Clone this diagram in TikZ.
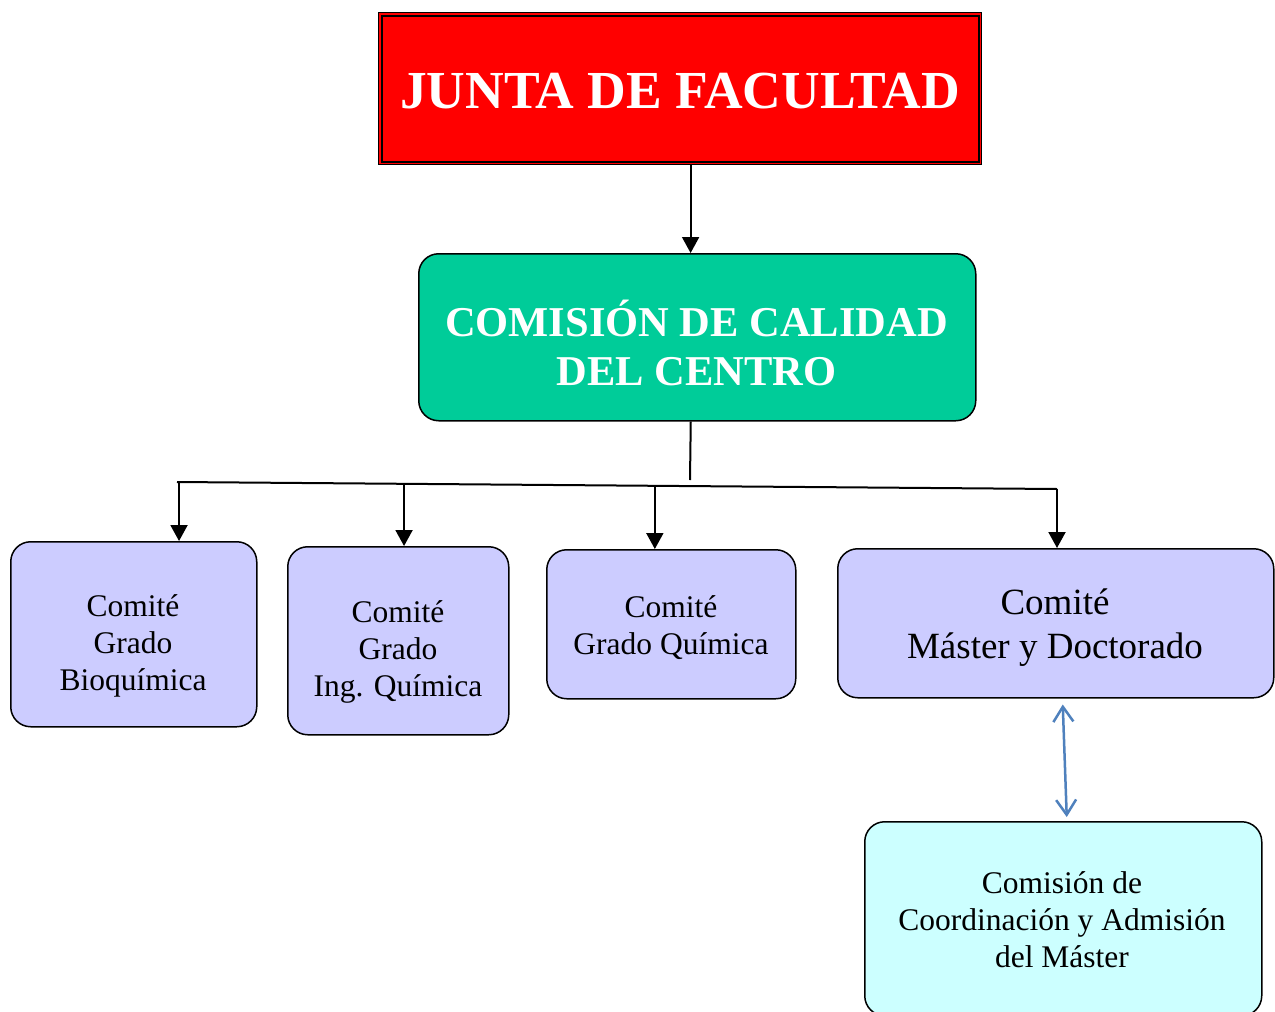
\documentclass[tikz,border=0pt]{standalone}
\usepackage{fontspec}
\setmainfont{Liberation Serif}
\usetikzlibrary{arrows.meta,calc}
\definecolor{juntared}{HTML}{FF0000}
\definecolor{calgreen}{HTML}{00CC99}
\definecolor{lav}{HTML}{CCCCFF}
\definecolor{cyanlight}{HTML}{CCFFFF}
\definecolor{blueln}{HTML}{4F81BD}
\begin{document}
\begin{tikzpicture}[x=1pt,y=-1pt,
  rbox/.style={draw=black, line width=1.5pt, rounded corners=20pt, inner sep=0pt, anchor=north west},
  txt/.style={align=center, inner sep=0pt, font=\fontsize{31.5}{37}\selectfont},
  arr/.style={line width=2pt, -{Triangle[length=16pt,width=17pt]}},
  conn/.style={line width=2pt}]
\useasboundingbox (0,0) rectangle (1275,1012);
\clip (0,0) rectangle (1275,1012);
\fill[white] (0,0) rectangle (1275,1012);
% top box
\node[anchor=north west, fill=juntared, draw=black, line width=1.2pt, inner sep=0pt,
      minimum width=603pt, minimum height=152pt] (j) at (378,12) {};
\draw[line width=2pt] ($(j.north west)+(3.5,3.5)$) rectangle ($(j.south east)+(-3.5,-3.5)$);
\node[anchor=base, text=white, inner sep=0pt, font=\fontsize{53.5}{60}\selectfont\bfseries] (jt) at (680,108) {JUNTA DE FACULTAD};
% green box
\node[rbox, fill=calgreen, minimum width=557pt, minimum height=167pt] (c) at (418,253) {};
\node[align=center, text=white, inner sep=0pt, font=\fontsize{42.5}{49}\selectfont\bfseries] (ct) at (696.5,343) {COMISIÓN DE CALIDAD\\DEL CENTRO};
% lower boxes
\node[rbox, fill=lav, minimum width=246pt, minimum height=185pt] (b1) at (10,541) {};
\node[rbox, fill=lav, minimum width=221pt, minimum height=188pt] (b2) at (287,546) {};
\node[rbox, fill=lav, minimum width=249pt, minimum height=149pt] (b3) at (546,549) {};
\node[rbox, fill=lav, minimum width=436pt, minimum height=149pt] (b4) at (837,548) {};
\node[rbox, fill=cyanlight, minimum width=397pt, minimum height=194pt] (b5) at (864,821) {};
\node[txt] (t1) at (133,646) {Comité\\Grado\\Bioquímica};
\node[txt] (t2) at (398,652) {Comité\\Grado\\Ing. Química};
\node[txt] (t3) at (671,628) {Comité\\Grado Química};
\node[txt, font=\fontsize{37}{44}\selectfont] (t4) at (1055,628) {Comité\\Máster y Doctorado};
\node[txt] (t5) at (1062,920) {Comisión de\\Coordinación y Admisión\\del Máster};
% connectors
\draw[arr] ([xshift=10.5pt]j.south) -- ([xshift=10.5pt]j.south |- c.north);
\coordinate (h1) at (177,482);
\coordinate (h4) at (1057,489);
\coordinate (stemend) at (690,480);
\draw[conn] ([xshift=-6.5pt]c.south) -- (stemend);
\draw[conn] (h1) -- (h4);
\coordinate (p1) at ($(h1)!0.0023!(h4)$);
\coordinate (p2) at ($(h1)!0.258!(h4)$);
\coordinate (p3) at ($(h1)!0.543!(h4)$);
\draw[arr] (p1) -- (p1 |- b1.north);
\draw[arr] (p2) -- (p2 |- b2.north);
\draw[arr] (p3) -- (p3 |- b3.north);
\draw[arr] (h4) -- (h4 |- b4.north);
\draw[blueln, line width=2.5pt, {Straight Barb[length=15pt,width=20pt]}-{Straight Barb[length=15pt,width=20pt]}]
  ($(b4.south)+(7,6)$) -- ($(b5.north)+(3.5,-4)$);
\end{tikzpicture}
\end{document}
